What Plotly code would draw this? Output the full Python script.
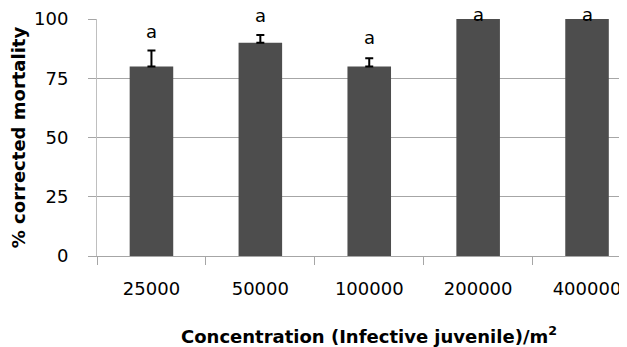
import plotly.graph_objects as go

categories = ["25000", "50000", "100000", "200000", "400000"]
mortality = [80, 90, 80, 100, 100]
error_plus = [6.7, 3.3, 3.4, None, None]
letters = ["a", "a", "a", "a", "a"]
letter_shift_px = [19, 19, 21, 5, 5]
x_title = "<b>Concentration (Infective juvenile)/m<sup>2</sup></b>"
y_title = "<b>% corrected mortality</b>"

fig = go.Figure()
fig.add_trace(go.Bar(
    x=categories, y=mortality, width=0.4,
    marker=dict(color="#4d4d4d", line=dict(width=0)),
    error_y=dict(type="data", symmetric=False, array=error_plus,
                 arrayminus=[0] * len(error_plus),
                 color="#000000", thickness=2, width=4),
    showlegend=False,
))

for i, (v, e, t, s) in enumerate(zip(mortality, error_plus, letters, letter_shift_px)):
    fig.add_annotation(x=i, y=v + (e or 0), xref="x", yref="y", text=t,
                       showarrow=False, yanchor="middle", yshift=s,
                       font=dict(family="DejaVu Sans", size=18, color="#000000"))

# x-axis title centred on the full (partly cropped) category span
fig.add_annotation(x=(len(categories) - 1) / 2, y=0, xref="x", yref="paper",
                   text=x_title, showarrow=False, yanchor="middle", yshift=-79,
                   font=dict(family="DejaVu Sans", size=18, color="#000000"))

# page body has an 8px default margin, so the figure is sized to end at the window edge
fig.update_layout(
    width=619, height=339,
    margin=dict(l=89, r=0, t=11, b=91),
    paper_bgcolor="white", plot_bgcolor="white",
    font=dict(family="DejaVu Sans", size=18, color="#000000"),
)
fig.update_xaxes(
    type="category", range=[-0.5, 4.367], automargin=False,
    showline=True, linecolor="#a6a6a6", linewidth=1,
    ticks="outside", tickson="boundaries", ticklen=8, tickcolor="#a6a6a6",
    ticklabelstandoff=16,
    showgrid=False,
)
fig.update_yaxes(
    range=[0, 100], tickvals=[0, 25, 50, 75, 100], automargin=False,
    showline=True, linecolor="#bfbfbf", linewidth=1,
    ticks="outside", ticklen=8, tickcolor="#a6a6a6",
    ticklabelstandoff=16,
    showgrid=True, gridcolor="#a6a6a6", gridwidth=1, zeroline=False,
    title=dict(text=y_title, font=dict(family="DejaVu Sans", size=18), standoff=3),
)

fig.write_html("out.html")
